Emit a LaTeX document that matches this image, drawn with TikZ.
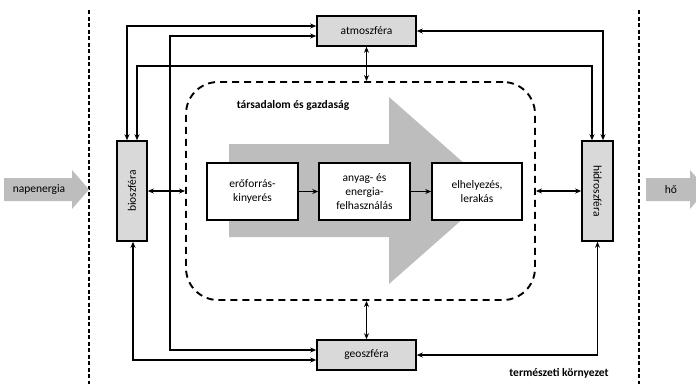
\documentclass[tikz,border=0pt]{standalone}
\usepackage{fontspec}
\setmainfont{Carlito}
\usepackage{xcolor}
\usepackage{tikz}
\usetikzlibrary{arrows.meta,positioning,backgrounds}

\definecolor{sphfill}{gray}{0.85}
\definecolor{flowgray}{gray}{0.74}

\begin{document}
\begin{tikzpicture}[
  x=1pt, y=-1pt,
  font=\fontsize{11.5}{14}\selectfont,
  >={Stealth[length=6pt,width=5pt]},
  sph/.style={draw, line width=1.6pt, fill=sphfill, align=center, inner sep=2pt},
  proc/.style={draw, line width=1.6pt, fill=white, align=center, inner sep=2pt,
               minimum width=91pt, minimum height=57pt},
  arr/.style={->, line width=1.5pt},
  both/.style={<->, line width=1.5pt},
  bound/.style={line width=1.4pt, dash pattern=on 4pt off 2.5pt},
  lbl/.style={font=\fontsize{11.5}{14}\selectfont\bfseries}
]
\useasboundingbox (0,0) rectangle (696,384);

% ---- natural environment boundary ----
\draw[bound] (89,10) -- (89,384);
\draw[bound] (639,10) -- (639,384);
\node[lbl] (envlbl) at (559,373) {természeti környezet};

% ---- energy in and out ----
\fill[flowgray] (4,178) -- (72,178) -- (72,170) -- (89,189.5) -- (72,209)
  -- (72,201) -- (4,201) -- cycle;
\node (nap) at (39,189.5) {napenergia};
\fill[flowgray] (646,178) -- (690,178) -- (690,170) -- (707,189.5) -- (690,209)
  -- (690,201) -- (646,201) -- cycle;
\node (heat) at (671,189.5) {hő};

% ---- spheres ----
\node[sph, minimum width=99pt, minimum height=30pt] (atmo) at (366.5,31) {atmoszféra};
\node[sph, minimum width=99pt, minimum height=30pt] (geo)  at (366.5,355) {geoszféra};
\node[sph, minimum width=100pt, minimum height=30pt, rotate=90]  (bio)   at (132,191) {bioszféra};
\node[sph, minimum width=100pt, minimum height=31pt, rotate=-90] (hidro) at (597.5,191) {hidroszféra};

% ---- society and economy ----
\node[draw, line width=1.9pt, dash pattern=on 7pt off 5pt, rounded corners=32pt,
      minimum width=349pt, minimum height=218pt] (soc) at (360.5,191) {};
\node[lbl] (soclbl) at (293,105) {társadalom és gazdaság};

\begin{scope}[on background layer]
\fill[flowgray] (229,144) -- (389,144) -- (389,97) -- (495,190.5) -- (389,284)
  -- (389,237) -- (229,237) -- cycle;
\end{scope}

\node[proc] (ero)   at (252.5,191.5) {erőforrás-\\kinyerés};
\node[proc] (anyag) at (364.5,191.5) {anyag- és\\energia-\\felhasználás};
\node[proc, minimum width=90pt] (elh) at (477,191.5) {elhelyezés,\\lerakás};
\draw[arr] (ero) -- (anyag);
\draw[arr] (anyag) -- (elh);

% ---- exchanges between spheres ----
\draw[both] ([xshift=-5pt]bio.east) |- ([yshift=5pt]atmo.west);
\draw[both] ([yshift=-5pt]atmo.west) -- ++(-146,0) |- ([yshift=5pt]geo.west);
\draw[both] ([xshift=5pt]bio.east) -- ++(0,-74) -| ([xshift=-5.5pt]hidro.west);
\draw[both] (atmo.east) -| ([xshift=5.5pt]hidro.west);
\draw[both] ([yshift=-5pt]geo.west) -| ([xshift=1pt]bio.west);
\draw[both] (geo.east) -| (hidro.east);

% ---- exchanges with society ----
\draw[both] (atmo.south) -- (atmo.south |- soc.north);
\draw[both] (geo.north) -- (geo.north |- soc.south);
\draw[both] (bio.south) -- (soc.west);
\draw[both] (hidro.south) -- (soc.east);
\end{tikzpicture}
\end{document}
